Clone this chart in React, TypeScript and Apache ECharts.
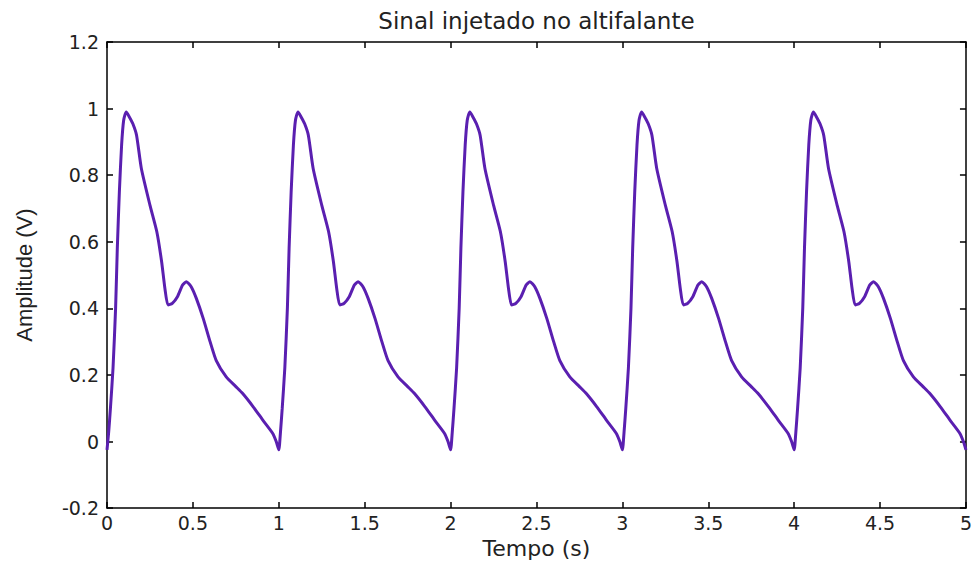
import React, { useEffect, useRef } from "react";
import * as echarts from "echarts";

const title = "Sinal injetado no altifalante";
const xName = "Tempo (s)";
const yName = "Amplitude (V)";
const periods = [0, 1, 2, 3, 4];
// one period of the waveform (time within period, volts)
const cycleT = [0.0, 0.01, 0.02, 0.035, 0.05, 0.06, 0.072, 0.085, 0.097, 0.112, 0.13, 0.15, 0.172, 0.2, 0.25, 0.29, 0.318, 0.337, 0.355, 0.38, 0.41, 0.44, 0.462, 0.49, 0.52, 0.56, 0.6, 0.636, 0.694, 0.75, 0.79, 0.85, 0.906, 0.964, 0.985];
const cycleV = [-0.025, 0.03, 0.1, 0.22, 0.4, 0.58, 0.75, 0.89, 0.965, 0.99, 0.975, 0.955, 0.92, 0.82, 0.71, 0.63, 0.54, 0.46, 0.41, 0.415, 0.435, 0.47, 0.48, 0.465, 0.43, 0.37, 0.3, 0.243, 0.194, 0.165, 0.144, 0.105, 0.065, 0.025, 0.0];
const endPoint: [number, number] = [5, -0.025];

export default function App() {
  const ref = useRef<HTMLDivElement>(null);
  useEffect(() => {
    if (!ref.current) return;
    const chart = echarts.init(ref.current, null, { renderer: "svg" });
    const data: [number, number][] = [];
    periods.forEach((p) => {
      cycleT.forEach((t, i) => data.push([p + t, cycleV[i]]));
    });
    data.push(endPoint);
    const tick = (c: string) => ({ show: true, inside: true, length: 6, lineStyle: { color: c, width: 1.5 } });
    chart.setOption({
      animation: false,
      backgroundColor: "#fff",
      grid: { left: 107, top: 42, right: 5, bottom: 52 },
      xAxis: [
        {
          type: "value",
          min: 0,
          max: 5,
          interval: 0.5,
          name: xName,
          nameLocation: "middle",
          nameGap: 27,
          nameTextStyle: { fontFamily: "DejaVu Sans", fontSize: 22, color: "#222", verticalAlign: "top" },
          axisLine: { show: true, onZero: false, lineStyle: { color: "#000", width: 1.5 } },
          axisTick: tick("#000"),
          axisLabel: { fontFamily: "DejaVu Sans", fontSize: 19, color: "#222", margin: 5 },
          splitLine: { show: false },
        },
        {
          type: "value",
          position: "top",
          min: 0,
          max: 5,
          interval: 0.5,
          name: title,
          nameLocation: "middle",
          nameGap: 10,
          nameTextStyle: { fontFamily: "DejaVu Sans", fontSize: 23, color: "#222", verticalAlign: "bottom" },
          axisLine: { show: true, onZero: false, lineStyle: { color: "#000", width: 1.5 } },
          axisTick: tick("#000"),
          axisLabel: { show: false },
          splitLine: { show: false },
        },
      ],
      yAxis: [
        {
          type: "value",
          min: -0.2,
          max: 1.2,
          interval: 0.2,
          name: yName,
          nameLocation: "middle",
          nameGap: 72,
          nameRotate: 90,
          nameTextStyle: { fontFamily: "Liberation Sans", fontSize: 22, color: "#222" },
          axisLine: { show: true, onZero: false, lineStyle: { color: "#000", width: 1.5 } },
          axisTick: tick("#000"),
          axisLabel: {
            fontFamily: "DejaVu Sans",
            fontSize: 19,
            color: "#222",
            margin: 8,
            formatter: (v: number) => String(Math.round(v * 10) / 10),
          },
          splitLine: { show: false },
        },
        {
          type: "value",
          position: "right",
          min: -0.2,
          max: 1.2,
          interval: 0.2,
          axisLine: { show: true, onZero: false, lineStyle: { color: "#000", width: 1.5 } },
          axisTick: tick("#000"),
          axisLabel: { show: false },
          splitLine: { show: false },
        },
      ],
      series: [
        {
          type: "line",
          data,
          showSymbol: false,
          smooth: 0.2,
          lineStyle: { color: "#5a1fb0", width: 3 },
          clip: true,
        },
      ],
    });
    return () => chart.dispose();
  }, []);
  return <div ref={ref} style={{ position: "fixed", left: 0, top: 0, width: 975, height: 564 }} />;
}
